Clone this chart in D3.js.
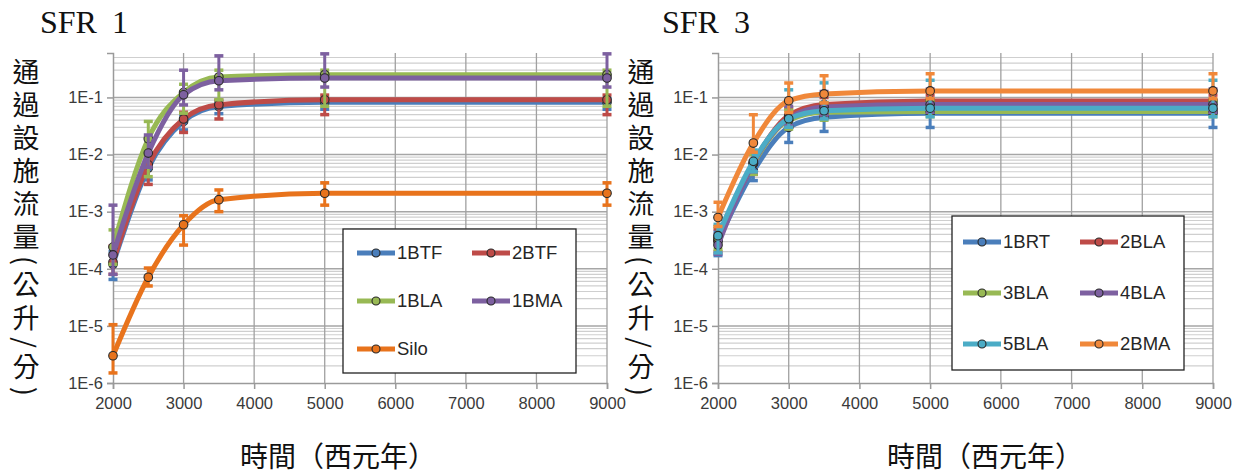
<!DOCTYPE html>
<html>
<head>
<meta charset="utf-8">
<script src="https://cdn.jsdelivr.net/npm/d3@7/dist/d3.min.js"></script>
<style>
  html, body { margin: 0; padding: 0; background: #fff; }
  svg { display: block; }
</style>
</head>
<body>
<svg id="chart" width="1240" height="476"></svg>
<script>
// Sampling years (西元年) shared by every series
const years = [2000, 2500, 3000, 3500, 5000, 9000];
const xTickValues = [2000, 3000, 4000, 5000, 6000, 7000, 8000, 9000];
const yTickValues = [1e-6, 1e-5, 1e-4, 1e-3, 1e-2, 1e-1];
const yTickLabels = ["1E-6", "1E-5", "1E-4", "1E-3", "1E-2", "1E-1"];

// SFR 1 — flow through facility (L/min), with lower / upper error limits
const sfr1Names = ["1BTF", "2BTF", "1BLA", "1BMA", "Silo"];
const sfr1Colors = ["#4a7ebb", "#be4b48", "#98b954", "#7d60a0", "#e8731c"];
const sfr1_1BTF    = [1.2e-4, 5.8e-3, 0.038, 0.0695, 0.082, 0.082];
const sfr1_1BTF_lo = [6.5e-5, 3.6e-3, 0.027, 0.052, 0.062, 0.062];
const sfr1_1BTF_hi = [2.0e-4, 8.0e-3, 0.050, 0.085, 0.095, 0.095];
const sfr1_2BTF    = [1.3e-4, 6.6e-3, 0.042, 0.0745, 0.091, 0.091];
const sfr1_2BTF_lo = [8.0e-5, 3.0e-3, 0.0244, 0.042, 0.050, 0.050];
const sfr1_2BTF_hi = [2.5e-4, 9.0e-3, 0.055, 0.090, 0.110, 0.110];
const sfr1_1BLA    = [2.4e-4, 0.0189, 0.122, 0.228, 0.250, 0.250];
const sfr1_1BLA_lo = [1.2e-4, 4.1e-3, 0.053, 0.091, 0.070, 0.070];
const sfr1_1BLA_hi = [4.8e-4, 0.038, 0.170, 0.300, 0.300, 0.300];
const sfr1_1BMA    = [1.75e-4, 0.0106, 0.111, 0.196, 0.219, 0.219];
const sfr1_1BMA_lo = [8.0e-5, 6.0e-3, 0.074, 0.136, 0.152, 0.152];
const sfr1_1BMA_hi = [1.3e-3, 0.022, 0.300, 0.535, 0.580, 0.580];
const sfr1_Silo    = [3.0e-6, 7.1e-5, 5.9e-4, 1.62e-3, 2.1e-3, 2.1e-3];
const sfr1_Silo_lo = [1.5e-6, 5.0e-5, 2.6e-4, 1.0e-3, 1.3e-3, 1.3e-3];
const sfr1_Silo_hi = [1.05e-5, 1.03e-4, 8.5e-4, 2.4e-3, 3.2e-3, 3.2e-3];

// SFR 3 — flow through facility (L/min), with lower / upper error limits
const sfr3Names = ["1BRT", "2BLA", "3BLA", "4BLA", "5BLA", "2BMA"];
const sfr3Colors = ["#4a7ebb", "#be4b48", "#98b954", "#7d60a0", "#4bacc6", "#f0883a"];
const sfr3_1BRT    = [3.0e-4, 5.1e-3, 0.030, 0.045, 0.053, 0.053];
const sfr3_1BRT_lo = [1.7e-4, 3.5e-3, 0.0163, 0.0254, 0.0298, 0.0298];
const sfr3_1BRT_hi = [4.5e-4, 7.0e-3, 0.050, 0.080, 0.090, 0.090];
const sfr3_2BLA    = [3.2e-4, 7.0e-3, 0.048, 0.075, 0.087, 0.087];
const sfr3_2BLA_lo = [2.0e-4, 4.5e-3, 0.030, 0.050, 0.060, 0.060];
const sfr3_2BLA_hi = [5.0e-4, 0.010, 0.065, 0.100, 0.110, 0.110];
const sfr3_3BLA    = [3.5e-4, 7.0e-3, 0.040, 0.055, 0.057, 0.057];
const sfr3_3BLA_lo = [2.2e-4, 4.5e-3, 0.028, 0.040, 0.046, 0.046];
const sfr3_3BLA_hi = [5.5e-4, 0.010, 0.060, 0.080, 0.085, 0.085];
const sfr3_4BLA    = [2.6e-4, 7.2e-3, 0.043, 0.068, 0.075, 0.075];
const sfr3_4BLA_lo = [1.8e-4, 5.0e-3, 0.032, 0.050, 0.055, 0.055];
const sfr3_4BLA_hi = [4.0e-4, 0.011, 0.070, 0.127, 0.140, 0.140];
const sfr3_5BLA    = [3.8e-4, 7.6e-3, 0.0424, 0.0585, 0.065, 0.065];
const sfr3_5BLA_lo = [1.9e-4, 5.0e-3, 0.030, 0.042, 0.046, 0.046];
const sfr3_5BLA_hi = [6.0e-4, 0.012, 0.136, 0.180, 0.200, 0.200];
const sfr3_2BMA    = [7.9e-4, 0.0159, 0.0875, 0.115, 0.130, 0.130];
const sfr3_2BMA_lo = [5.5e-4, 0.011, 0.0546, 0.080, 0.095, 0.095];
const sfr3_2BMA_hi = [1.46e-3, 0.0498, 0.179, 0.240, 0.260, 0.260];

const yTitle = "通過設施流量(公升/分)";
const xTitle = "時間（西元年）";

function pack(names, colors, vals, los, his) {
  return names.map((n, i) => ({
    name: n, color: colors[i],
    points: years.map((yr, j) => ({ x: yr, v: vals[i][j], lo: los[i][j], hi: his[i][j] }))
  }));
}

const panels = [
  {
    title: "SFR 1", titleX: 40, ylabX: 26, xlabX: 240,
    plot: { left: 113, right: 607, top: 53, bottom: 383 },
    series: pack(sfr1Names, sfr1Colors,
      [sfr1_1BTF, sfr1_2BTF, sfr1_1BLA, sfr1_1BMA, sfr1_Silo],
      [sfr1_1BTF_lo, sfr1_2BTF_lo, sfr1_1BLA_lo, sfr1_1BMA_lo, sfr1_Silo_lo],
      [sfr1_1BTF_hi, sfr1_2BTF_hi, sfr1_1BLA_hi, sfr1_1BMA_hi, sfr1_Silo_hi]),
    legend: { x: 343, y: 229, w: 233, h: 144, rows: [253, 301, 349], cols: [357, 472], lineLen: 38 }
  },
  {
    title: "SFR 3", titleX: 662, ylabX: 641, xlabX: 887,
    plot: { left: 718, right: 1213, top: 53, bottom: 383 },
    series: pack(sfr3Names, sfr3Colors,
      [sfr3_1BRT, sfr3_2BLA, sfr3_3BLA, sfr3_4BLA, sfr3_5BLA, sfr3_2BMA],
      [sfr3_1BRT_lo, sfr3_2BLA_lo, sfr3_3BLA_lo, sfr3_4BLA_lo, sfr3_5BLA_lo, sfr3_2BMA_lo],
      [sfr3_1BRT_hi, sfr3_2BLA_hi, sfr3_3BLA_hi, sfr3_4BLA_hi, sfr3_5BLA_hi, sfr3_2BMA_hi]),
    legend: { x: 952, y: 216, w: 232, h: 154, rows: [242, 293, 344], cols: [963, 1080], lineLen: 38 }
  }
];

const svg = d3.select("#chart");
const labelFont = "'Liberation Sans', Arial, sans-serif";
const cjkFont = "'Noto Sans CJK TC', 'Noto Sans CJK SC', sans-serif";

panels.forEach(p => {
  const g = svg.append("g");
  const x = d3.scaleLinear().domain([2000, 9000]).range([p.plot.left, p.plot.right]);
  const y = d3.scaleLog().domain([1e-6, 0.6]).range([p.plot.bottom, p.plot.top]);

  // minor horizontal grid (2..9 × each decade)
  const minor = [];
  for (let e = -6; e <= -1; e++) for (let m = 2; m <= 9; m++) {
    const v = m * Math.pow(10, e);
    if (v <= 0.6) minor.push(v);
  }
  g.append("g").selectAll("line").data(minor).join("line")
    .attr("x1", p.plot.left).attr("x2", p.plot.right)
    .attr("y1", d => y(d)).attr("y2", d => y(d))
    .attr("stroke", "#cfcfcf").attr("stroke-width", 1.2);

  // major horizontal grid
  g.append("g").selectAll("line").data(yTickValues.slice(1)).join("line")
    .attr("x1", p.plot.left).attr("x2", p.plot.right)
    .attr("y1", d => y(d)).attr("y2", d => y(d))
    .attr("stroke", "#a6a6a6").attr("stroke-width", 1.5);

  // vertical grid
  g.append("g").selectAll("line").data(xTickValues.slice(1)).join("line")
    .attr("x1", d => x(d)).attr("x2", d => x(d))
    .attr("y1", p.plot.top).attr("y2", p.plot.bottom)
    .attr("stroke", "#a0a0a0").attr("stroke-width", 1.3);

  // axes
  const yAxis = d3.axisLeft(y).tickValues(yTickValues)
    .tickFormat((d, i) => yTickLabels[i]).tickSize(6).tickPadding(4);
  const yg = g.append("g").attr("transform", `translate(${p.plot.left},0)`).call(yAxis);
  const xAxis = d3.axisBottom(x).tickValues(xTickValues).tickFormat(d3.format("d"))
    .tickSize(6).tickPadding(8);
  const xg = g.append("g").attr("transform", `translate(0,${p.plot.bottom})`).call(xAxis);
  [yg, xg].forEach(a => {
    a.select(".domain").attr("stroke", "#9a9a9a").attr("stroke-width", 1.5);
    a.selectAll(".tick line").attr("stroke", "#9a9a9a").attr("stroke-width", 1.5);
    a.selectAll(".tick text").attr("fill", "#3a3a3a")
      .style("font-family", labelFont).style("font-size", "16.5px");
  });

  // series: error bars, smoothed line, markers
  const line = d3.line().x(d => x(d.x)).y(d => y(d.v)).curve(d3.curveMonotoneX);
  p.series.forEach(s => {
    const sg = g.append("g");
    const eb = sg.append("g").attr("stroke", s.color).attr("stroke-width", 3);
    eb.selectAll("line.v").data(s.points).join("line").attr("class", "v")
      .attr("x1", d => x(d.x)).attr("x2", d => x(d.x))
      .attr("y1", d => y(d.lo)).attr("y2", d => y(d.hi));
    eb.selectAll("line.h").data(s.points.flatMap(d => [{ x: d.x, v: d.lo }, { x: d.x, v: d.hi }]))
      .join("line").attr("class", "h")
      .attr("x1", d => x(d.x) - 4.5).attr("x2", d => x(d.x) + 4.5)
      .attr("y1", d => y(d.v)).attr("y2", d => y(d.v)).attr("stroke-width", 3.5);
    sg.append("path").datum(s.points).attr("d", line)
      .attr("fill", "none").attr("stroke", s.color).attr("stroke-width", 5)
      .attr("stroke-linejoin", "round");
    sg.selectAll("circle").data(s.points).join("circle")
      .attr("cx", d => x(d.x)).attr("cy", d => y(d.v)).attr("r", 4.3)
      .attr("fill", s.color).attr("stroke", "#2a2a2a").attr("stroke-width", 1.1);
  });

  // legend
  const L = p.legend;
  const lg = g.append("g");
  lg.append("rect").attr("x", L.x).attr("y", L.y).attr("width", L.w).attr("height", L.h)
    .attr("fill", "#fff").attr("stroke", "#222").attr("stroke-width", 1.3);
  const items = lg.selectAll("g").data(p.series).join("g")
    .attr("transform", (d, i) => `translate(${L.cols[i % 2]},${L.rows[Math.floor(i / 2)]})`);
  items.append("line").attr("x1", 0).attr("x2", L.lineLen).attr("y1", 0).attr("y2", 0)
    .attr("stroke", d => d.color).attr("stroke-width", 5);
  items.append("circle").attr("cx", L.lineLen / 2).attr("cy", 0).attr("r", 4)
    .attr("fill", d => d.color).attr("stroke", "#2a2a2a").attr("stroke-width", 1.1);
  items.append("text").attr("x", L.lineLen + 2).attr("y", 0).attr("dy", "0.35em")
    .text(d => d.name).attr("fill", "#262626")
    .style("font-family", labelFont).style("font-size", "18.5px");

  // panel title
  g.append("text").attr("x", p.titleX).attr("y", 33).text(p.title)
    .attr("fill", "#111").style("font-family", "'Liberation Serif', 'DejaVu Serif', serif")
    .style("font-size", "32px").style("word-spacing", "7px");

  // vertical axis title
  g.append("text").attr("x", p.ylabX).attr("y", 58).text(yTitle)
    .attr("fill", "#111").style("font-family", cjkFont).style("font-size", "27px")
    .style("writing-mode", "vertical-rl").style("letter-spacing", "6px");

  // horizontal axis title
  g.append("text").attr("x", p.xlabX).attr("y", 467).text(xTitle)
    .attr("fill", "#111").style("font-family", cjkFont).style("font-size", "28px");
});
</script>
</body>
</html>
